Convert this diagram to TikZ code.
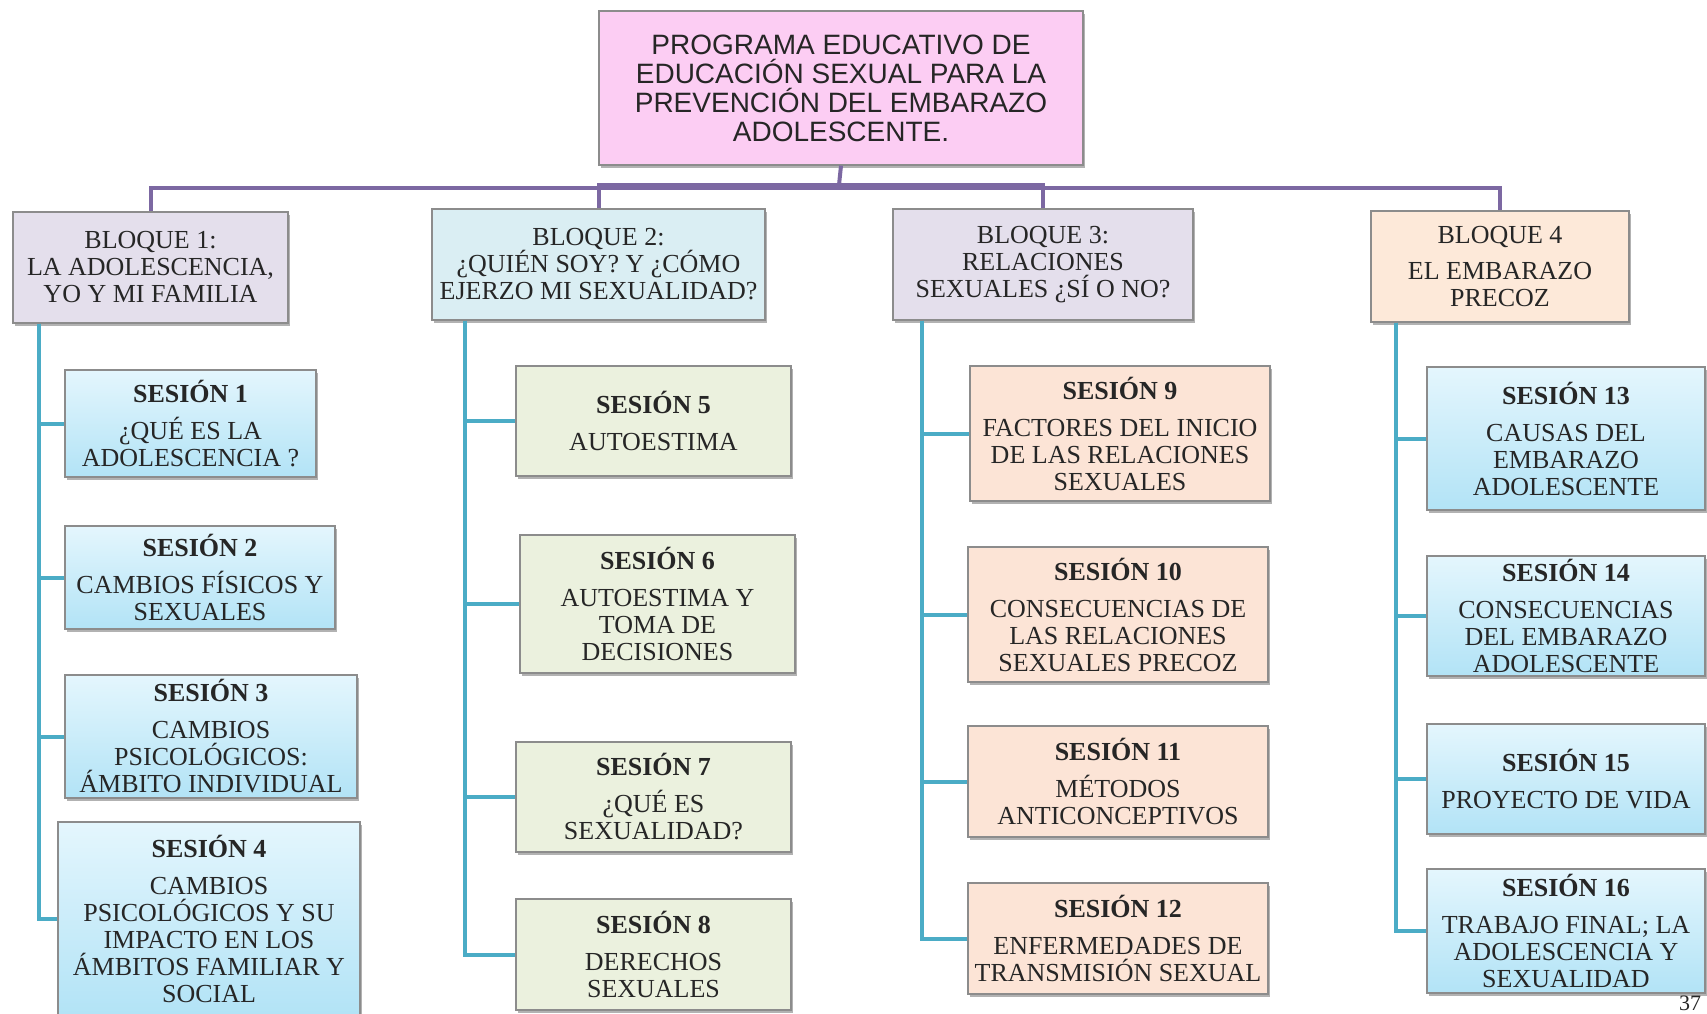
\documentclass[tikz,border=0pt]{standalone}
\usepackage{fontspec}
\setmainfont{Liberation Serif}
\newfontfamily\arialfont{Liberation Sans}
\usetikzlibrary{shadows}
\definecolor{rosa}{RGB}{252,205,243}
\definecolor{lila}{RGB}{228,223,236}
\definecolor{celeste}{RGB}{218,238,243}
\definecolor{durazno}{RGB}{253,233,217}
\definecolor{verde}{RGB}{235,241,222}
\definecolor{salmon}{RGB}{252,228,214}
\definecolor{azulA}{RGB}{228,246,253}
\definecolor{azulB}{RGB}{178,227,246}
\definecolor{borde}{RGB}{140,140,140}
\definecolor{morado}{RGB}{124,104,162}
\definecolor{turquesa}{RGB}{75,172,198}
\definecolor{tinta}{RGB}{38,38,38}
\begin{document}
\begin{tikzpicture}[x=1pt,y=-1pt,
    caja/.style={draw=borde, line width=1.2pt, align=center, inner sep=3pt, text=tinta,
        font=\fontsize{26}{27}\selectfont,
        drop shadow={shadow xshift=2pt, shadow yshift=-3pt, fill=black!60, opacity=0.5}},
    bloque/.style={caja, minimum height=111pt},
    sesion/.style={caja},
    azul/.style={top color=azulA, bottom color=azulB},
    bus/.style={draw=morado, line width=4pt},
    rama/.style={draw=turquesa, line width=4pt}]
    \useasboundingbox (0,0) rectangle (1707,1013);
    \node[caja, fill=rosa, minimum width=484pt, minimum height=154pt, font=\arialfont\fontsize{28}{29}\selectfont] (prog) at (841,88)
        {PROGRAMA EDUCATIVO DE\\EDUCACIÓN SEXUAL PARA LA\\PREVENCIÓN DEL EMBARAZO\\ADOLESCENTE.};
    \node[bloque, fill=lila, minimum width=275pt] (B1) at (150.5,267.5) {BLOQUE 1:\\LA ADOLESCENCIA,\\YO Y MI FAMILIA};
    \node[bloque, fill=celeste, minimum width=333pt] (B2) at (598.5,264.5) {BLOQUE 2:\\¿QUIÉN SOY? Y ¿CÓMO\\EJERZO MI SEXUALIDAD?};
    \node[bloque, fill=lila, minimum width=300pt] (B3) at (1043,264.5) {BLOQUE 3:\\RELACIONES\\SEXUALES ¿SÍ O NO?};
    \node[bloque, fill=durazno, minimum width=258pt] (B4) at (1500,266.5) {BLOQUE 4\\[9pt]EL EMBARAZO\\PRECOZ};
    \coordinate (busA) at (839,188);
    \coordinate (busB) at (839,185);
    \draw[bus] (prog.south) -- (busB);
    \draw[bus] (B1.north) |- (busA);
    \draw[bus] (B4.north) |- (busA);
    \draw[bus] (B2.north) |- (busB);
    \draw[bus] (B3.north) |- (busB);
    \node[sesion, azul, minimum width=251pt, minimum height=107pt] (S1) at (190.5,423.5) {\textbf{SESIÓN 1}\\[10pt]¿QUÉ ES LA\\ADOLESCENCIA ?};
    \node[sesion, azul, minimum width=270pt, minimum height=103pt] (S2) at (200,577.5) {\textbf{SESIÓN 2}\\[10pt]CAMBIOS FÍSICOS Y\\SEXUALES};
    \node[sesion, azul, minimum width=292pt, minimum height=123pt] (S3) at (211,736.5) {\textbf{SESIÓN 3}\\[10pt]CAMBIOS\\PSICOLÓGICOS:\\ÁMBITO INDIVIDUAL};
    \node[sesion, azul, minimum width=302pt, minimum height=194pt] (S4) at (209,919) {\textbf{SESIÓN 4}\\[10pt]CAMBIOS\\PSICOLÓGICOS Y SU\\IMPACTO EN LOS\\ÁMBITOS FAMILIAR Y\\SOCIAL};
    \node[sesion, fill=verde, minimum width=275pt, minimum height=110pt] (S5) at (653.5,421) {\textbf{SESIÓN 5}\\[10pt]AUTOESTIMA};
    \node[sesion, fill=verde, minimum width=275pt, minimum height=138pt] (S6) at (657.5,604) {\textbf{SESIÓN 6}\\[10pt]AUTOESTIMA Y\\TOMA DE\\DECISIONES};
    \node[sesion, fill=verde, minimum width=275pt, minimum height=110pt] (S7) at (653.5,797) {\textbf{SESIÓN 7}\\[10pt]¿QUÉ ES\\SEXUALIDAD?};
    \node[sesion, fill=verde, minimum width=275pt, minimum height=111pt] (S8) at (653.5,954.5) {\textbf{SESIÓN 8}\\[10pt]DERECHOS\\SEXUALES};
    \node[sesion, fill=salmon, minimum width=300pt, minimum height=135pt] (S9) at (1120,433.5) {\textbf{SESIÓN 9}\\[10pt]FACTORES DEL INICIO\\DE LAS RELACIONES\\SEXUALES};
    \node[sesion, fill=salmon, minimum width=300pt, minimum height=135pt] (S10) at (1118,614.5) {\textbf{SESIÓN 10}\\[10pt]CONSECUENCIAS DE\\LAS RELACIONES\\SEXUALES PRECOZ};
    \node[sesion, fill=salmon, minimum width=300pt, minimum height=111pt] (S11) at (1118,781.5) {\textbf{SESIÓN 11}\\[10pt]MÉTODOS\\ANTICONCEPTIVOS};
    \node[sesion, fill=salmon, minimum width=300pt, minimum height=111pt] (S12) at (1118,938.5) {\textbf{SESIÓN 12}\\[10pt]ENFERMEDADES DE\\TRANSMISIÓN SEXUAL};
    \node[sesion, azul, minimum width=278pt, minimum height=143pt] (S13) at (1566,438.5) {\textbf{SESIÓN 13}\\[10pt]CAUSAS DEL\\EMBARAZO\\ADOLESCENTE};
    \node[sesion, azul, minimum width=278pt, minimum height=120pt] (S14) at (1566,616) {\textbf{SESIÓN 14}\\[10pt]CONSECUENCIAS\\DEL EMBARAZO\\ADOLESCENTE};
    \node[sesion, azul, minimum width=278pt, minimum height=110pt] (S15) at (1566,779) {\textbf{SESIÓN 15}\\[10pt]PROYECTO DE VIDA};
    \node[sesion, azul, minimum width=278pt, minimum height=124pt] (S16) at (1566,931) {\textbf{SESIÓN 16}\\[10pt]TRABAJO FINAL; LA\\ADOLESCENCIA Y\\SEXUALIDAD};
    \foreach \s in {1,...,4} \draw[rama] ([xshift=27pt]B1.south west) |- (S\s.west);
    \foreach \s in {5,...,8} \draw[rama] ([xshift=34pt]B2.south west) |- (S\s.west);
    \foreach \s in {9,...,12} \draw[rama] ([xshift=30pt]B3.south west) |- (S\s.west);
    \foreach \s in {13,...,16} \draw[rama] ([xshift=26pt]B4.south west) |- (S\s.west);
    \node[text=tinta, inner sep=0pt, font=\fontsize{22}{22}\selectfont] (pag) at (1690,1003) {37};
\end{tikzpicture}
\end{document}
